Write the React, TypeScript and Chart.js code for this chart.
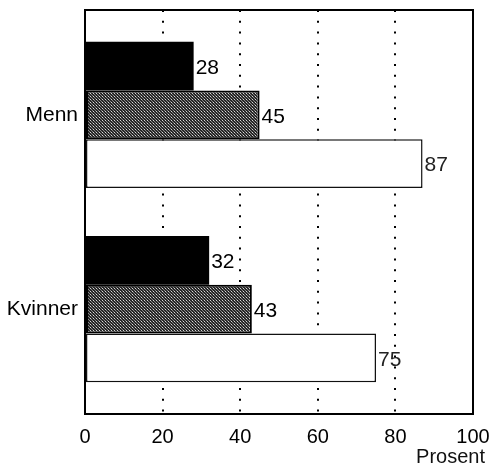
import React, { useEffect, useRef } from "react";
import { Chart, registerables } from "chart.js";

Chart.register(...registerables);

const categories = ["Menn", "Kvinner"];
const seriesBlack = [28, 32];
const seriesGray = [45, 43];
const seriesWhite = [87, 75];
const xTicks = [0, 20, 40, 60, 80, 100];
const xAxisTitle = "Prosent";

const FONT = "'Liberation Sans', Arial, Helvetica, sans-serif";

function makePattern(): CanvasPattern | string {
  const c = document.createElement("canvas");
  c.width = 3;
  c.height = 3;
  const g = c.getContext("2d");
  if (!g) return "#555";
  g.fillStyle = "#262626";
  g.fillRect(0, 0, 3, 3);
  g.fillStyle = "#d8d8d8";
  g.fillRect(0, 0, 1, 1);
  g.fillStyle = "#8a8a8a";
  g.fillRect(1, 1, 1, 1);
  g.fillRect(2, 2, 1, 1);
  const p = g.createPattern(c, "repeat");
  return p || "#555";
}

export default function App() {
  const ref = useRef<HTMLCanvasElement | null>(null);

  useEffect(() => {
    if (!ref.current) return;
    const pattern = makePattern();
    const toPts = (arr: number[]) => arr.map((v, i) => ({ x: v, y: i }));

    const valueLabels = {
      id: "valueLabels",
      afterDatasetsDraw(chart: any) {
        const ctx = chart.ctx;
        ctx.save();
        ctx.font = `21px ${FONT}`;
        ctx.textBaseline = "middle";
        ctx.textAlign = "left";
        chart.data.datasets.forEach((ds: any, di: number) => {
          const meta = chart.getDatasetMeta(di);
          meta.data.forEach((el: any, i: number) => {
            const v = ds.data[i].x;
            ctx.fillStyle = di === 2 ? "#222" : "#000";
            ctx.fillText(String(v), el.x + 2, el.y + 2);
          });
        });
        // plot frame
        const a = chart.chartArea;
        ctx.strokeStyle = "#000";
        ctx.lineWidth = 2;
        ctx.strokeRect(a.left, a.top, a.right - a.left, a.bottom - a.top);
        // axis title
        ctx.font = `20px ${FONT}`;
        ctx.textAlign = "right";
        ctx.fillStyle = "#111";
        ctx.fillText(xAxisTitle, a.right + 12, a.bottom + 43);
        ctx.restore();
      },
    };

    const chart = new Chart(ref.current, {
      type: "bar",
      data: {
        datasets: [
          {
            data: toPts(seriesBlack) as any,
            backgroundColor: "#000",
            borderColor: "#000",
            borderWidth: 0,
          },
          {
            data: toPts(seriesGray) as any,
            backgroundColor: pattern as any,
            borderColor: "#000",
            borderWidth: 2,
            borderSkipped: false,
          },
          {
            data: toPts(seriesWhite) as any,
            backgroundColor: "#fff",
            borderColor: "#111",
            borderWidth: 1.5,
            borderSkipped: false,
          },
        ],
      },
      options: {
        indexAxis: "y",
        responsive: false,
        animation: false,
        events: [],
        layout: { padding: { left: 0, right: 17, top: 10, bottom: 0 } },
        datasets: {
          bar: { categoryPercentage: 0.753, barPercentage: 1 },
        },
        plugins: {
          legend: { display: false },
          tooltip: { enabled: false },
        },
        scales: {
          x: {
            type: "linear",
            min: 0,
            max: 100,
            offset: false,
            afterBuildTicks: (s: any) => {
              s.ticks = xTicks.map((v) => ({ value: v }));
            },
            afterFit: (s: any) => {
              s.height = 50;
              s.paddingLeft = 0;
              s.paddingRight = 0;
            },
            ticks: {
              color: "#000",
              font: { family: FONT, size: 20 },
              padding: 11,
            },
            grid: {
              drawTicks: false,
              offset: false,
              lineWidth: 2,
              color: (c: any) =>
                c.tick && (c.tick.value === 0 || c.tick.value === 100)
                  ? "rgba(0,0,0,0)"
                  : "#000",
            },
            border: { display: false, dash: [2, 8.8] },
          },
          y: {
            type: "linear",
            reverse: true,
            offset: false,
            min: -0.54,
            max: 1.54,
            afterBuildTicks: (s: any) => {
              s.ticks = categories.map((_, i) => ({ value: i }));
            },
            afterFit: (s: any) => {
              s.width = 85;
              s.paddingTop = 0;
              s.paddingBottom = 0;
            },
            ticks: {
              color: "#000",
              font: { family: FONT, size: 21 },
              padding: 7,
              callback: (v: any) => categories[Math.round(Number(v))] ?? "",
            },
            grid: { display: false, drawTicks: false, offset: false },
            border: { display: false },
          },
        },
      },
      plugins: [valueLabels],
    });
    return () => chart.destroy();
  }, []);

  return (
    <div style={{ position: "fixed", left: 0, top: 0, width: 490, height: 464, background: "#fff" }}>
      <canvas ref={ref} width={490} height={464} style={{ display: "block" }} />
    </div>
  );
}
